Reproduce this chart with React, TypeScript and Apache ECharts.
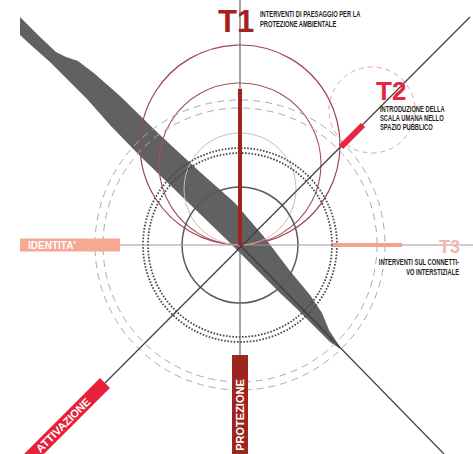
import React, { useEffect, useRef } from "react";
import * as echarts from "echarts";

// Diagram units: 1 unit = 1 px, origin at the crossing of the main axes.
const X_RANGE = [-240, 233];
const Y_RANGE = [-209, 245];

// Main guide lines [x1, y1, x2, y2]
const guideNames = ["verticale", "orizzontale", "diagonale", "diagonale 2"];
const guideLines = [
  [0, 245, 0, -209],
  [-120, 0, 233, 0],
  [-135, -138, 230, 228],
  [0, 0, 204, -209],
];

// Thick coloured bars [x1, y1, x2, y2]
const barNames = ["T1", "T2", "T3", "IDENTITA'", "PROTEZIONE", "ATTIVAZIONE"];
const barSegments = [
  [0, 0, 0, 156],
  [101, 98, 123, 120],
  [93, 0, 162, 0],
  [-220, 0, -120, 0],
  [0, -110, 0, -209],
  [-220, -223, -135, -138],
];

// Circles
const circleNames = [
  "T1 esterno", "T1 medio", "T1 interno", "nucleo",
  "punteggiato interno", "punteggiato esterno",
  "tratteggiato interno", "tratteggiato esterno", "T2",
];
const circleX = [0, 0, 0, 0, 0, 0, 0, 0, 132];
const circleY = [100, 81, 56, 0, 0, 0, 0, 0, 135];
const circleR = [100, 81, 56, 58, 92, 97, 137, 145, 43];

// Grey band outline
const bandX = [
  -220, -200, -184, -174, -162, -145, -120, -80, -40, -5, 25, 50, 70, 82, 89, 102,
  90, 73, 57, 40, 22, 3, -15, -40, -70, -100, -130, -153, -173, -190, -207, -220,
];
const bandY = [
  228, 208, 193, 188, 184, 171, 149, 110, 73, 42, 7, -26, -50, -68, -85, -105,
  -97, -80, -64, -48, -30, -11, 7, 31, 60, 89, 120, 146, 166, 183, 198, 210,
];

// Titles
const titleTexts = ["T1", "T2", "T3"];
const titleX = [-22, 136, 199];
const titleY = [223.5, 154, -1.5];

// Notes
const noteLines = [
  "INTERVENTI DI PAESAGGIO PER LA", "PROTEZIONE AMBIENTALE",
  "INTRODUZIONE DELLA", "SCALA UMANA NELLO", "SPAZIO PUBBLICO",
  "INTERVENTI SUL CONNETTI-", "VO INTERSTIZIALE",
];
const noteX = [20, 20, 140, 140, 140, 219, 219];
const noteY = [231, 221, 136, 127, 118, -17, -27];

// Labels inside bars
const barLabels = ["IDENTITA'", "PROTEZIONE", "ATTIVAZIONE"];
const barLabelX = [-212, 0, -177];
const barLabelY = [0, -170, -180];

const guideStyles = [
  { stroke: "#6a6a6a", lineWidth: 1.2 },
  { stroke: "#9a9a9a", lineWidth: 1 },
  { stroke: "#3e3e3e", lineWidth: 1.2 },
  { stroke: "#3e3e3e", lineWidth: 1.2 },
];
const barStyles = [
  { stroke: "#a3241f", lineWidth: 4 },
  { stroke: "#e8243f", lineWidth: 6 },
  { stroke: "#f6a190", lineWidth: 4 },
  { stroke: "#f7a893", lineWidth: 13 },
  { stroke: "#9e2420", lineWidth: 16 },
  { stroke: "#e62139", lineWidth: 14 },
];
const circleStyles: any[] = [
  { stroke: "#9b4650", lineWidth: 1.2 },
  { stroke: "#a6505a", lineWidth: 1.1 },
  { stroke: "#d6b6ba", lineWidth: 1 },
  { stroke: "#5a5a5a", lineWidth: 1.5 },
  { stroke: "#4a4a4a", lineWidth: 1.8, lineDash: [1.6, 1.6] },
  { stroke: "#4a4a4a", lineWidth: 1.8, lineDash: [1.6, 1.6] },
  { stroke: "#a3adb5", lineWidth: 1, lineDash: [7, 5] },
  { stroke: "#a3adb5", lineWidth: 1, lineDash: [7, 5] },
  { stroke: "#eaa0aa", lineWidth: 1, lineDash: [5, 4] },
];
const titleColors = ["#a3221f", "#e8243f", "#f7b3ab"];
const titleSizes = [31, 26, 18];
const labelRot = [0, Math.PI / 2, Math.PI / 4];
const labelAlign = ["left", "center", "center"];

const FONT = "'Liberation Sans', Arial, sans-serif";

function segmentSeries(name: string, data: number[][], styles: any[], z: number) {
  return {
    type: "custom",
    name,
    coordinateSystem: "cartesian2d",
    z,
    silent: true,
    data,
    encode: { x: [0, 2], y: [1, 3] },
    renderItem: (params: any, api: any) => {
      const a = api.coord([api.value(0), api.value(1)]);
      const b = api.coord([api.value(2), api.value(3)]);
      return {
        type: "line",
        shape: { x1: a[0], y1: a[1], x2: b[0], y2: b[1] },
        style: { ...styles[params.dataIndex], fill: null, lineCap: "butt" },
      };
    },
  };
}

function buildOption() {
  const circleData = circleX.map((x, i) => [x, circleY[i], circleR[i]]);
  const titleData = titleX.map((x, i) => [x, titleY[i]]);
  const noteData = noteX.map((x, i) => [x, noteY[i]]);
  const labelData = barLabelX.map((x, i) => [x, barLabelY[i]]);

  return {
    animation: false,
    backgroundColor: "#ffffff",
    grid: { left: 0, right: 0, top: 0, bottom: 0, containLabel: false },
    xAxis: { type: "value", min: X_RANGE[0], max: X_RANGE[1], show: false },
    yAxis: { type: "value", min: Y_RANGE[0], max: Y_RANGE[1], show: false },
    series: [
      {
        type: "custom",
        name: "fascia",
        coordinateSystem: "cartesian2d",
        z: 1,
        silent: true,
        data: [[bandX[0], bandY[0]]],
        encode: { x: 0, y: 1 },
        renderItem: (_p: any, api: any) => ({
          type: "polygon",
          shape: { points: bandX.map((x, i) => api.coord([x, bandY[i]])) },
          style: { fill: "#616161", stroke: null },
        }),
      },
      {
        type: "custom",
        name: "cerchi",
        coordinateSystem: "cartesian2d",
        z: 2,
        silent: true,
        data: circleData,
        encode: { x: 0, y: 1 },
        renderItem: (params: any, api: any) => {
          const c = api.coord([api.value(0), api.value(1)]);
          const r = api.size([api.value(2), 0])[0];
          return {
            type: "circle",
            shape: { cx: c[0], cy: c[1], r },
            style: { ...circleStyles[params.dataIndex], fill: null },
          };
        },
      },
      segmentSeries("assi", guideLines, guideStyles, 3),
      segmentSeries("barre", barSegments, barStyles, 4),
      {
        type: "custom",
        name: "titoli",
        coordinateSystem: "cartesian2d",
        z: 5,
        silent: true,
        data: titleData,
        encode: { x: 0, y: 1 },
        renderItem: (params: any, api: any) => {
          const p = api.coord([api.value(0), api.value(1)]);
          const i = params.dataIndex;
          return {
            type: "text",
            x: p[0],
            y: p[1],
            style: {
              text: titleTexts[i],
              fill: titleColors[i],
              fontSize: titleSizes[i],
              fontWeight: "bold",
              fontFamily: FONT,
              align: "left",
              textAlign: "left",
              verticalAlign: "middle",
              textVerticalAlign: "middle",
            },
          };
        },
      },
      {
        type: "custom",
        name: "note",
        coordinateSystem: "cartesian2d",
        z: 5,
        silent: true,
        data: noteData,
        encode: { x: 0, y: 1 },
        renderItem: (params: any, api: any) => {
          const p = api.coord([api.value(0), api.value(1)]);
          const i = params.dataIndex;
          const al = i >= 5 ? "right" : "left";
          return {
            type: "text",
            x: p[0],
            y: p[1],
            scaleX: 0.68,
            style: {
              text: noteLines[i],
              fill: "#1f1f1f",
              fontSize: 8.5,
              fontWeight: "bold",
              fontFamily: FONT,
              align: al,
              textAlign: al,
              verticalAlign: "middle",
              textVerticalAlign: "middle",
            },
          };
        },
      },
      {
        type: "custom",
        name: "etichette",
        coordinateSystem: "cartesian2d",
        z: 6,
        silent: true,
        data: labelData,
        encode: { x: 0, y: 1 },
        renderItem: (params: any, api: any) => {
          const p = api.coord([api.value(0), api.value(1)]);
          const i = params.dataIndex;
          return {
            type: "text",
            x: p[0],
            y: p[1],
            rotation: labelRot[i],
            style: {
              text: barLabels[i],
              fill: "#ffffff",
              fontSize: i === 0 ? 10 : 11,
              fontWeight: "bold",
              fontFamily: FONT,
              align: labelAlign[i],
              textAlign: labelAlign[i],
              verticalAlign: "middle",
              textVerticalAlign: "middle",
            },
          };
        },
      },
    ],
  };
}

export default function App() {
  const ref = useRef<HTMLDivElement>(null);
  useEffect(() => {
    document.body.style.margin = "0";
    const chart = echarts.init(ref.current!, null, { renderer: "svg" });
    chart.setOption(buildOption() as any);
    return () => chart.dispose();
  }, []);
  return <div ref={ref} style={{ width: 473, height: 454 }} />;
}
